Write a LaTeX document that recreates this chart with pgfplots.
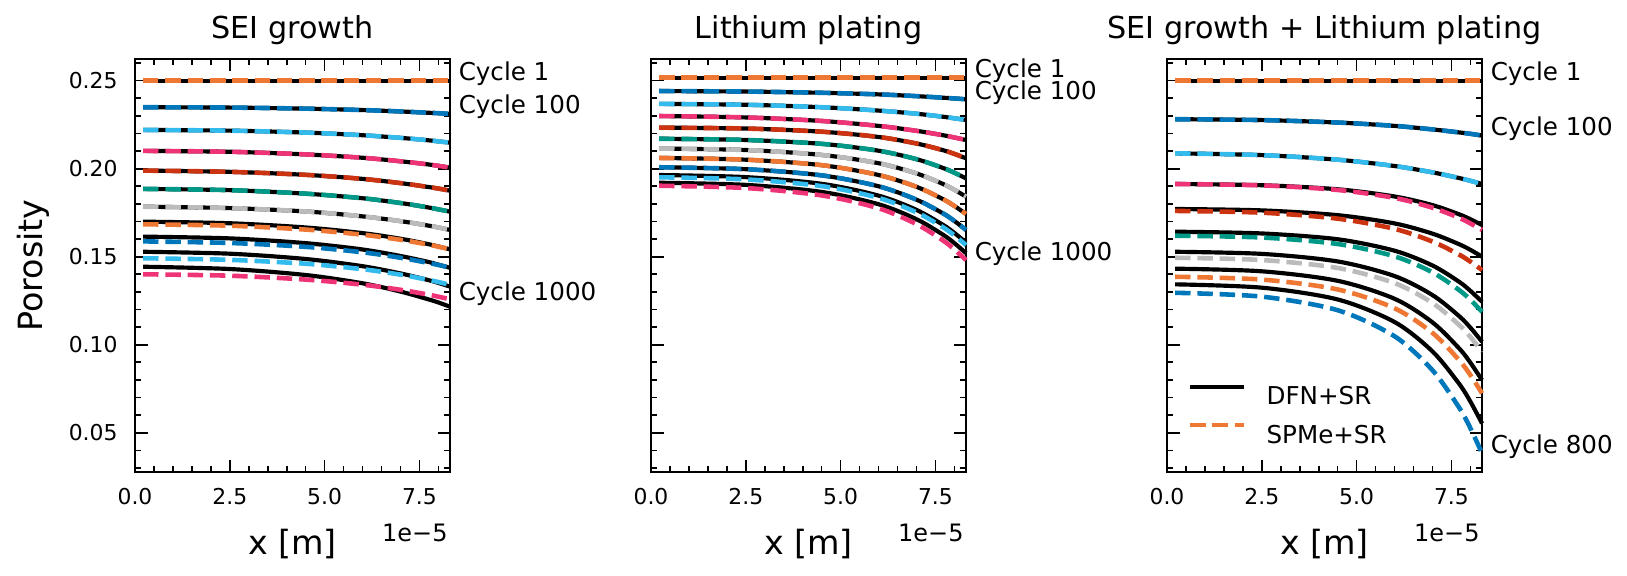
\documentclass[border=0pt]{standalone}
\usepackage{fontspec}
\setmainfont{DejaVu Sans}
\usepackage{pgfplots}
\usepackage{pgfplotstable}
\pgfplotsset{compat=1.18}

\definecolor{vorange}{HTML}{EE7733}
\definecolor{vblue}{HTML}{0077BB}
\definecolor{vcyan}{HTML}{33BBEE}
\definecolor{vmag}{HTML}{EE3377}
\definecolor{vred}{HTML}{CC3311}
\definecolor{vteal}{HTML}{009988}
\definecolor{vgrey}{HTML}{BBBBBB}

\newcommand{\tsz}{\fontsize{10.5}{12.6}\selectfont}
\newcommand{\lsz}{\fontsize{11.8}{14}\selectfont}

% SEI growth
\pgfplotstableread{
x     c1     c2     c3     c4     c5     c6     c7     d8     s8     d9     s9     d10    s10    d11    s11
0.213 0.25   0.2349 0.2220 0.2101 0.1989 0.1885 0.1784 0.1699 0.1684 0.1614 0.1587 0.1528 0.1491 0.1443 0.1400
2.5   0.25   0.2347 0.2216 0.2096 0.1982 0.1878 0.1776 0.1690 0.1676 0.1604 0.1578 0.1517 0.1482 0.1430 0.1392
4.5   0.25   0.2341 0.2205 0.2081 0.1965 0.1858 0.1757 0.1666 0.1654 0.1577 0.1556 0.1487 0.1460 0.1396 0.1370
6.0   0.25   0.2333 0.2190 0.2062 0.1942 0.1832 0.1729 0.1634 0.1625 0.1541 0.1525 0.1446 0.1429 0.1349 0.1341
7.0   0.25   0.2325 0.2175 0.2042 0.1918 0.1805 0.1702 0.1602 0.1596 0.1504 0.1494 0.1405 0.1398 0.1302 0.1312
7.7   0.25   0.2318 0.2162 0.2025 0.1897 0.1781 0.1678 0.1573 0.1570 0.1472 0.1466 0.1369 0.1370 0.1260 0.1286
8.0   0.25   0.2315 0.2155 0.2016 0.1887 0.1769 0.1666 0.1558 0.1557 0.1455 0.1453 0.1351 0.1356 0.1240 0.1273
8.307 0.25   0.2311 0.2148 0.2006 0.1875 0.1756 0.1652 0.1542 0.1542 0.1437 0.1437 0.1330 0.1340 0.1216 0.1258
}\tabA

% Lithium plating
\pgfplotstableread{
x     c1     c2     c3     c4     c5     c6     c7     c8     c9     d10    s10    d11    s11
0.213 0.2517 0.2441 0.2368 0.2299 0.2233 0.2170 0.2114 0.2061 0.2008 0.1964 0.1951 0.1920 0.1903
2.5   0.2517 0.2438 0.2363 0.2291 0.2228 0.2163 0.2106 0.2051 0.1997 0.1952 0.1939 0.1908 0.1890
4.5   0.2517 0.2431 0.2349 0.2271 0.2210 0.2141 0.2078 0.2020 0.1962 0.1914 0.1901 0.1868 0.1848
6.0   0.2517 0.2422 0.2330 0.2243 0.2180 0.2102 0.2031 0.1964 0.1900 0.1847 0.1834 0.1798 0.1775
7.0   0.2517 0.2412 0.2312 0.2215 0.2143 0.2054 0.1973 0.1897 0.1824 0.1766 0.1752 0.1713 0.1685
7.7   0.2517 0.2403 0.2295 0.2190 0.2105 0.2004 0.1913 0.1827 0.1746 0.1681 0.1667 0.1625 0.1592
8.0   0.2517 0.2399 0.2286 0.2177 0.2084 0.1977 0.1880 0.1788 0.1703 0.1635 0.1621 0.1577 0.1541
8.307 0.2517 0.2394 0.2277 0.2163 0.2059 0.1945 0.1841 0.1743 0.1652 0.1580 0.1566 0.1520 0.1481
}\tabB

% SEI growth + Lithium plating
\pgfplotstableread{
x     c1     c2     c3     d4     s4     d5     s5     d6     s6     d7     s7     d8     s8     d9     s9
0.213 0.25   0.2281 0.2087 0.1913 0.1913 0.1771 0.1760 0.1642 0.1619 0.1528 0.1494 0.1432 0.1386 0.1343 0.1295
2.5   0.25   0.2276 0.2077 0.1906 0.1905 0.1763 0.1750 0.1632 0.1609 0.1516 0.1481 0.1417 0.1370 0.1324 0.1273
4.5   0.25   0.2262 0.2051 0.1883 0.1879 0.1736 0.1716 0.1599 0.1572 0.1473 0.1436 0.1363 0.1314 0.1257 0.1196
6.0   0.25   0.2243 0.2015 0.1842 0.1834 0.1689 0.1658 0.1534 0.1502 0.1390 0.1350 0.1261 0.1207 0.1129 0.1048
7.0   0.25   0.2223 0.1979 0.1793 0.1778 0.1631 0.1586 0.1450 0.1411 0.1282 0.1237 0.1127 0.1067 0.0962 0.0855
7.7   0.25   0.2206 0.1947 0.1741 0.1721 0.1571 0.1512 0.1358 0.1311 0.1163 0.1113 0.0980 0.0913 0.0779 0.0644
8.0   0.25   0.2198 0.1931 0.1713 0.1689 0.1539 0.1472 0.1306 0.1255 0.1097 0.1044 0.0898 0.0828 0.0677 0.0526
8.307 0.25   0.2188 0.1913 0.1680 0.1652 0.1500 0.1424 0.1244 0.1187 0.1017 0.0960 0.0799 0.0724 0.0553 0.0383
}\tabC

\tikzset{cyc/.style={anchor=base west, font=\lsz, xshift=4pt, inner sep=0pt},
         offs/.style={anchor=base east, font=\fontsize{11.5}{13.8}\selectfont, inner sep=0pt}}

\pgfplotsset{
  dfn/.style={black, line width=2.0pt, smooth, mark=none, forget plot},
  spme/.style={line width=2.2pt, dash pattern=on 7.4pt off 3.3pt, smooth, mark=none, forget plot},
  porax/.style={
    scale only axis, width=151.2pt, height=198.24pt,
    anchor=south west,
    xmin=0, xmax=8.307, ymin=0.0277, ymax=0.2623,
    clip=false,
    axis line style={line width=1.1pt},
    tick align=inside, xtick pos=both, ytick pos=both,
    xticklabel pos=lower, yticklabel pos=left,
    xtick={0,2.5,5,7.5}, xticklabels={0.0,2.5,5.0,7.5},
    minor xtick={0.5,1,1.5,2,3,3.5,4,4.5,5.5,6,6.5,7,8},
    ytick={0.05,0.10,0.15,0.20,0.25},
    minor ytick={0.03,0.04,0.06,0.07,0.08,0.09,0.11,0.12,0.13,0.14,0.16,0.17,0.18,0.19,0.21,0.22,0.23,0.24,0.26},
    major tick length=6pt, minor tick length=3pt,
    tick style={black, line width=0.8pt},
    xticklabel style={font=\tsz, anchor=base, yshift=-15.4pt, inner sep=0pt},
    yticklabel style={font=\tsz, anchor=east, xshift=-8.2pt, inner sep=0pt},
    title style={at={(axis description cs:0.5,1.0202)}, anchor=base, font=\fontsize{14.5}{17}\selectfont, inner sep=0pt},
    xlabel={x [m]},
    xlabel style={at={(axis description cs:0.5,-0.19875)}, anchor=base, font=\fontsize{16}{19}\selectfont, inner sep=0pt},
    ylabel style={at={(axis description cs:-0.2923,0.5)}, anchor=base, font=\fontsize{16}{19}\selectfont, inner sep=0pt},
  },
}

\newcommand{\pr}[4]{%
  \addplot[dfn] table[x=x,y=#2]{#1};
  \addplot[spme,#4] table[x=x,y=#3]{#1};
}

\begin{document}
\begin{tikzpicture}
\path[use as bounding box] (0pt,0pt) rectangle (780.96pt,276pt);

% ---------- Panel 1 ----------
\begin{axis}[porax, at={(64.8pt,49.44pt)}, title={SEI growth}, ylabel={Porosity},
  yticklabels={0.05,0.10,0.15,0.20,0.25}]
\pr{\tabA}{c1}{c1}{vorange}
\pr{\tabA}{c2}{c2}{vblue}
\pr{\tabA}{c3}{c3}{vcyan}
\pr{\tabA}{c4}{c4}{vmag}
\pr{\tabA}{c5}{c5}{vred}
\pr{\tabA}{c6}{c6}{vteal}
\pr{\tabA}{c7}{c7}{vgrey}
\pr{\tabA}{d8}{s8}{vorange}
\pr{\tabA}{d9}{s9}{vblue}
\pr{\tabA}{d10}{s10}{vcyan}
\pr{\tabA}{d11}{s11}{vmag}
\node[cyc] at (axis cs:8.307,0.25) {Cycle 1};
\node[cyc] at (axis cs:8.307,0.2311) {Cycle 100};
\node[cyc] at (axis cs:8.307,0.1250) {Cycle 1000};
\node[offs] at (axis description cs:0.9934,-0.169) {1e−5};
\end{axis}

% ---------- Panel 2 ----------
\begin{axis}[porax, at={(312.48pt,49.44pt)}, title={Lithium plating}, yticklabels={}]
\pr{\tabB}{c1}{c1}{vorange}
\pr{\tabB}{c2}{c2}{vblue}
\pr{\tabB}{c3}{c3}{vcyan}
\pr{\tabB}{c4}{c4}{vmag}
\pr{\tabB}{c5}{c5}{vred}
\pr{\tabB}{c6}{c6}{vteal}
\pr{\tabB}{c7}{c7}{vgrey}
\pr{\tabB}{c8}{c8}{vorange}
\pr{\tabB}{c9}{c9}{vblue}
\pr{\tabB}{d10}{s10}{vcyan}
\pr{\tabB}{d11}{s11}{vmag}
\node[cyc] at (axis cs:8.307,0.2517) {Cycle 1};
\node[cyc] at (axis cs:8.307,0.2394) {Cycle 100};
\node[cyc] at (axis cs:8.307,0.1481) {Cycle 1000};
\node[offs] at (axis description cs:0.9934,-0.169) {1e−5};
\end{axis}

% ---------- Panel 3 ----------
\begin{axis}[porax, at={(560.16pt,49.44pt)}, title={SEI growth + Lithium plating}, yticklabels={},
  legend style={draw=none, fill=none, at={(axis description cs:0,0)}, anchor=south west,
    xshift=10pt, yshift=13.9pt, inner sep=0pt, outer sep=0pt, row sep=8.6pt,
    font=\lsz, nodes={inner sep=0pt, text height=8.7pt, text depth=0pt},
    /tikz/every odd column/.append style={column sep=9.6pt}},
  legend cell align=left,
  legend image code/.code={\draw[#1] (0pt,4.3pt) -- (26pt,4.3pt);}]
\addlegendimage{black, line width=2.0pt}
\addlegendentry{DFN+SR}
\addlegendimage{vorange, line width=2.2pt, dash pattern=on 7.4pt off 3.3pt}
\addlegendentry{SPMe+SR}
\pr{\tabC}{c1}{c1}{vorange}
\pr{\tabC}{c2}{c2}{vblue}
\pr{\tabC}{c3}{c3}{vcyan}
\pr{\tabC}{d4}{s4}{vmag}
\pr{\tabC}{d5}{s5}{vred}
\pr{\tabC}{d6}{s6}{vteal}
\pr{\tabC}{d7}{s7}{vgrey}
\pr{\tabC}{d8}{s8}{vorange}
\pr{\tabC}{d9}{s9}{vblue}
\node[cyc] at (axis cs:8.307,0.25) {Cycle 1};
\node[cyc] at (axis cs:8.307,0.2188) {Cycle 100};
\node[cyc] at (axis cs:8.307,0.0383) {Cycle 800};
\node[offs] at (axis description cs:0.9934,-0.169) {1e−5};
\end{axis}
\end{tikzpicture}
\end{document}
